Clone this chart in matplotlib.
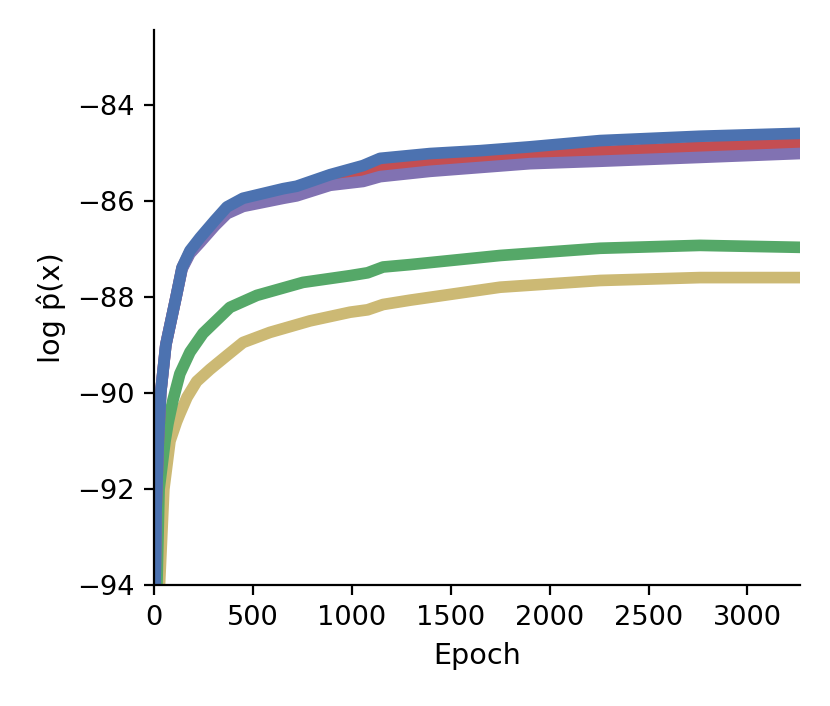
import matplotlib
matplotlib.use("Agg")
import matplotlib.pyplot as plt

# цвета (seaborn deep)
c_blue = "#4C72B0"
c_green = "#55A868"
c_red = "#C44E52"
c_purple = "#8172B2"
c_yellow = "#CCB974"

# значения (эпоха, log p)
ep_blue = [4, 10, 22, 34, 60, 112, 142, 182, 233, 308, 369, 450, 654, 721, 890, 1057, 1143, 1395, 1648, 1901, 2255, 2760, 3260]
v_blue = [-94.5, -92.5, -91, -90, -89, -88, -87.39, -87.04, -86.77, -86.41, -86.13, -85.95, -85.75, -85.7, -85.46, -85.27, -85.12, -85.02, -84.96, -84.88, -84.75, -84.66, -84.6]

ep_purple = [4, 10, 22, 34, 60, 112, 142, 182, 233, 308, 369, 450, 654, 721, 890, 1057, 1143, 1395, 1648, 1901, 2255, 2760, 3260]
v_purple = [-94.5, -92.5, -91, -90, -89, -88, -87.42, -87.1, -86.87, -86.52, -86.27, -86.12, -85.95, -85.9, -85.68, -85.6, -85.5, -85.39, -85.31, -85.23, -85.18, -85.1, -85.02]

ep_red = [4, 10, 22, 34, 60, 112, 142, 182, 233, 308, 369, 450, 654, 721, 890, 1057, 1143, 1395, 1648, 1901, 2255, 2760, 3260]
v_red = [-94.5, -92.5, -91, -90, -89, -88, -87.4, -87.07, -86.82, -86.47, -86.2, -86.04, -85.85, -85.8, -85.57, -85.44, -85.32, -85.22, -85.14, -85.06, -84.98, -84.89, -84.82]

ep_green = [15, 26, 56, 71, 96, 131, 182, 248, 384, 520, 753, 991, 1080, 1158, 1294, 1750, 2255, 2760, 3260]
v_green = [-94, -92, -91, -90.63, -90.15, -89.6, -89.15, -88.76, -88.22, -87.97, -87.7, -87.56, -87.5, -87.38, -87.33, -87.14, -86.99, -86.93, -86.97]

ep_yellow = [28, 50, 81, 114, 131, 167, 216, 283, 369, 450, 586, 789, 991, 1080, 1158, 1294, 1750, 2255, 2760, 3260]
v_yellow = [-94, -92, -91, -90.6, -90.43, -90.09, -89.76, -89.51, -89.22, -88.95, -88.74, -88.5, -88.32, -88.27, -88.16, -88.07, -87.8, -87.66, -87.6, -87.6]

fig = plt.figure(figsize=(4.15, 3.53), dpi=200)
ax = fig.add_axes([0.1855, 0.171, 0.7785, 0.7865])

lw = 4.2
ax.plot(ep_yellow, v_yellow, color=c_yellow, lw=lw, solid_joinstyle="round")
ax.plot(ep_green, v_green, color=c_green, lw=lw, solid_joinstyle="round")
ax.plot(ep_red, v_red, color=c_red, lw=lw, solid_joinstyle="round")
ax.plot(ep_purple, v_purple, color=c_purple, lw=lw, solid_joinstyle="round")
ax.plot(ep_blue, v_blue, color=c_blue, lw=lw, solid_joinstyle="round")

ax.set_xlim(0, 3266)
ax.set_ylim(-94, -82.45)
ax.set_yticks([-94, -92, -90, -88, -86, -84])
ax.set_xticks([0, 500, 1000, 1500, 2000, 2500, 3000])
ax.tick_params(labelsize=9.8)
ax.set_xlabel("Epoch", fontsize=10.3)
ax.set_ylabel("log p\u0302(x)", fontsize=10.3)
ax.spines["top"].set_visible(False)
ax.spines["right"].set_visible(False)

plt.savefig("out.png", dpi=200)
